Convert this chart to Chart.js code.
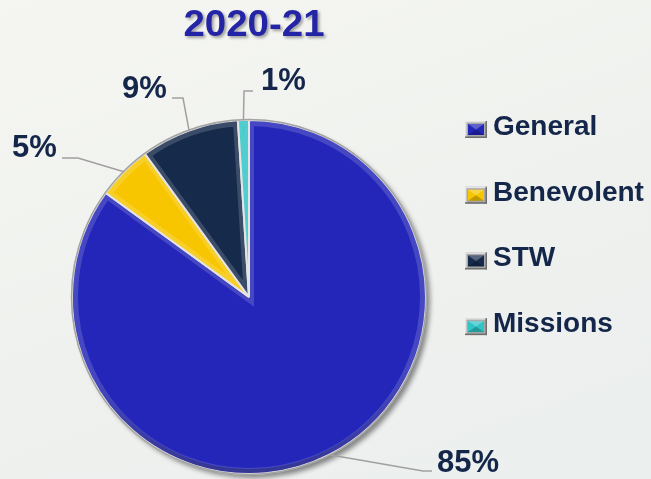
<!DOCTYPE html>
<html>
<head>
<meta charset="utf-8">
<script src="https://cdn.jsdelivr.net/npm/chart.js@4/dist/chart.umd.min.js"></script>
<style>
  html, body { margin: 0; padding: 0; overflow: hidden; }
  body {
    width: 651px;
    height: 479px;
    background: linear-gradient(160deg, #f5f6f2 0%, #eff1ee 55%, #ebefee 100%);
  }
  canvas { display: block; }
</style>
</head>
<body>
<canvas id="grafico" width="651" height="479"></canvas>
<script>
const titolo = "2020-21";
const categorie = ["General", "Benevolent", "STW", "Missions"];
const valori = [85, 5, 9, 1];
const etichette = ["85%", "5%", "9%", "1%"];
const colori = ["#2326b8", "#f7c600", "#162a4c", "#2fc4c6"];

// leader lines (elbow, end) and label spot (left, baseline) for each slice
const richiami = [
  { gomito: [423, 471], fine: [432, 471], testo: [437, 472] },
  { gomito: [78, 158], fine: [62, 158], testo: [12, 157] },
  { gomito: [183, 98], fine: [172, 98], testo: [122, 98] },
  { gomito: [244, 91], fine: [253, 91], testo: [261, 90] },
];

const testoScuro = "#14264a";
const fontBase = "'Liberation Sans', Arial, sans-serif";

function disegnaQuadratino(ctx, x, y, w, h, colore) {
  // grey bevelled frame
  ctx.fillStyle = "#a9a9a9";
  ctx.fillRect(x, y, w, h);
  ctx.fillStyle = "#e4e4e4";
  ctx.fillRect(x, y, w, 1.5);
  ctx.fillRect(x, y, 1.5, h);
  ctx.fillStyle = "#6e6e6e";
  ctx.fillRect(x, y + h - 1.5, w, 1.5);
  ctx.fillRect(x + w - 1.5, y, 1.5, h);
  // coloured pyramid inside
  const ix = x + 3, iy = y + 3, iw = w - 6, ih = h - 6;
  ctx.fillStyle = colore;
  ctx.fillRect(ix, iy, iw, ih);
  const cx = ix + iw / 2, cy = iy + ih / 2;
  ctx.fillStyle = "rgba(255,255,255,0.28)";
  ctx.beginPath();
  ctx.moveTo(ix, iy); ctx.lineTo(ix + iw, iy); ctx.lineTo(cx, cy); ctx.closePath();
  ctx.fill();
  ctx.fillStyle = "rgba(0,0,0,0.22)";
  ctx.beginPath();
  ctx.moveTo(ix, iy + ih); ctx.lineTo(ix + iw, iy + ih); ctx.lineTo(cx, cy); ctx.closePath();
  ctx.fill();
}

const decorazioni = {
  id: "decorazioni",
  beforeDatasetsDraw(chart) {
    const ctx = chart.ctx;
    const a = chart.getDatasetMeta(0).data[0];
    ctx.save();
    ctx.shadowColor = "rgba(0,0,0,0.45)";
    ctx.shadowBlur = 5;
    ctx.shadowOffsetX = 3;
    ctx.shadowOffsetY = 3;
    ctx.fillStyle = "#808080";
    ctx.beginPath();
    ctx.arc(a.x + 1, a.y + 1, a.outerRadius, 0, Math.PI * 2);
    ctx.fill();
    ctx.restore();
  },
  afterDatasetsDraw(chart) {
    const ctx = chart.ctx;
    const archi = chart.getDatasetMeta(0).data;

    // soft bevel on every slice: light rim, darker toward the bottom edge
    archi.forEach((a) => {
      ctx.save();
      ctx.beginPath();
      ctx.moveTo(a.x, a.y);
      ctx.arc(a.x, a.y, a.outerRadius - 1, a.startAngle, a.endAngle);
      ctx.closePath();
      ctx.clip();
      ctx.strokeStyle = "rgba(255,255,255,0.16)";
      ctx.lineWidth = 10;
      ctx.stroke();
      const g = ctx.createLinearGradient(0, a.y - a.outerRadius, 0, a.y + a.outerRadius);
      g.addColorStop(0, "rgba(0,0,0,0)");
      g.addColorStop(0.7, "rgba(0,0,0,0)");
      g.addColorStop(1, "rgba(0,0,0,0.25)");
      ctx.strokeStyle = g;
      ctx.lineWidth = 8;
      ctx.beginPath();
      ctx.arc(a.x, a.y, a.outerRadius - 1, a.startAngle, a.endAngle);
      ctx.stroke();
      ctx.restore();
    });

    // outer grey rim
    const a0 = archi[0];
    ctx.save();
    ctx.strokeStyle = "#a3a3a3";
    ctx.lineWidth = 1.5;
    ctx.beginPath();
    ctx.arc(a0.x, a0.y, a0.outerRadius + 0.5, 0, Math.PI * 2);
    ctx.stroke();
    ctx.restore();

    // leader lines and percentages
    ctx.save();
    archi.forEach((a, i) => {
      const r = richiami[i];
      const medio = (a.startAngle + a.endAngle) / 2;
      const sx = a.x + Math.cos(medio) * a.outerRadius;
      const sy = a.y + Math.sin(medio) * a.outerRadius;
      ctx.strokeStyle = "#a0a0a0";
      ctx.lineWidth = 1.5;
      ctx.beginPath();
      ctx.moveTo(sx, sy);
      ctx.lineTo(r.gomito[0], r.gomito[1]);
      ctx.lineTo(r.fine[0], r.fine[1]);
      ctx.stroke();

      ctx.fillStyle = testoScuro;
      ctx.font = "bold 31px " + fontBase;
      ctx.textAlign = "left";
      ctx.textBaseline = "alphabetic";
      ctx.fillText(etichette[i], r.testo[0], r.testo[1]);
    });
    ctx.restore();
  },
  afterDraw(chart) {
    const ctx = chart.ctx;

    // title, squeezed like a condensed face
    ctx.save();
    ctx.font = "bold 36px " + fontBase;
    const larghezza = ctx.measureText(titolo).width;
    const scala = 141 / larghezza;
    ctx.translate(254, 36);
    ctx.scale(scala, 1);
    ctx.shadowColor = "rgba(0,0,0,0.35)";
    ctx.shadowBlur = 3;
    ctx.shadowOffsetX = 2;
    ctx.shadowOffsetY = 2;
    ctx.fillStyle = "#2424a6";
    ctx.textAlign = "center";
    ctx.textBaseline = "alphabetic";
    ctx.fillText(titolo, 0, 0);
    ctx.restore();

    // legend
    ctx.save();
    categorie.forEach((nome, i) => {
      const base = 135 + i * 65.7;
      disegnaQuadratino(ctx, 465, base - 14, 22, 17, colori[i]);
      ctx.fillStyle = testoScuro;
      ctx.font = "bold 28px " + fontBase;
      ctx.textAlign = "left";
      ctx.textBaseline = "alphabetic";
      ctx.fillText(nome, 493, base);
    });
    ctx.restore();
  },
};

const ctx = document.getElementById("grafico").getContext("2d");
new Chart(ctx, {
  type: "pie",
  data: {
    labels: categorie,
    datasets: [
      {
        data: valori,
        backgroundColor: colori,
        borderColor: "#e0e0e0",
        borderWidth: 2,
      },
    ],
  },
  options: {
    responsive: false,
    animation: false,
    layout: { padding: { left: 71, top: 119, right: 224, bottom: 4 } },
    plugins: {
      legend: { display: false },
      tooltip: { enabled: false },
      title: { display: false },
    },
  },
  plugins: [decorazioni],
});
</script>
</body>
</html>
